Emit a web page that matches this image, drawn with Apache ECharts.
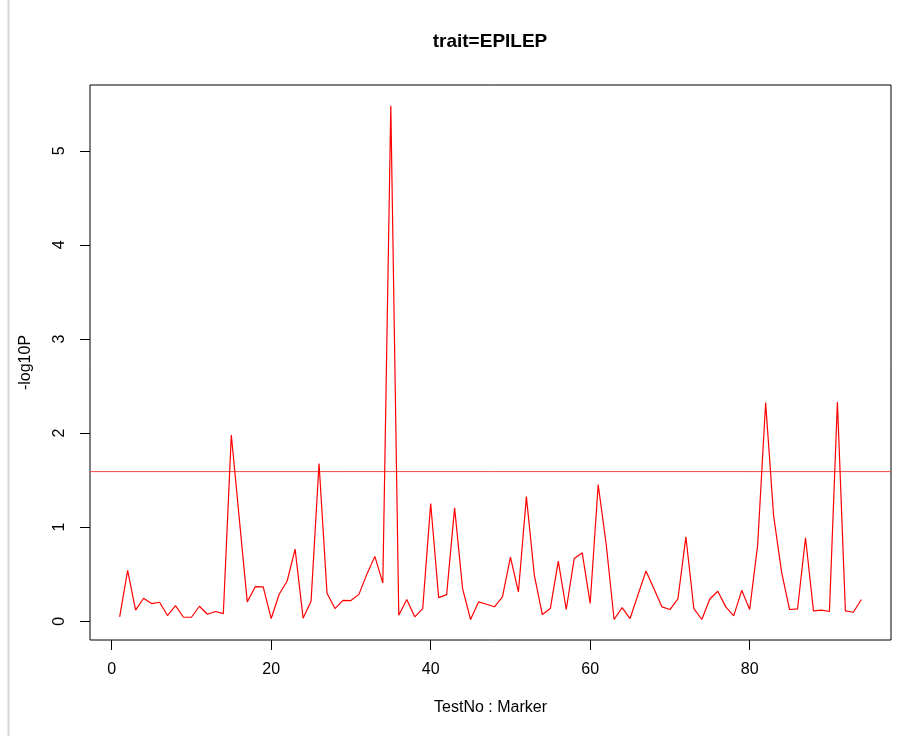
<!DOCTYPE html>
<html>
<head>
<meta charset="utf-8">
<script src="https://cdn.jsdelivr.net/npm/echarts@6/dist/echarts.min.js"></script>
<style>
html,body{margin:0;padding:0;background:#fff;}
#chart{width:917px;height:736px;}
</style>
</head>
<body>
<div id="chart"></div>
<script>
var chartTitle = 'trait=EPILEP';
var xAxisTitle = 'TestNo : Marker';
var yAxisTitle = '-log10P';
var xTicks = [0, 20, 40, 60, 80];
var yTicks = [0, 1, 2, 3, 4, 5];
var threshold = 1.59;
var negLog10P = [
  0.046, 0.54, 0.117, 0.244, 0.187, 0.201, 0.06, 0.166, 0.042, 0.042,
  0.159, 0.074, 0.103, 0.081, 1.98, 1.09, 0.205, 0.367, 0.364, 0.028,
  0.286, 0.427, 0.766, 0.032, 0.212, 1.677, 0.297, 0.134, 0.222, 0.219,
  0.285, 0.50, 0.689, 0.405, 5.48, 0.064, 0.23, 0.046, 0.134, 1.25,
  0.251, 0.282, 1.204, 0.346, 0.018, 0.205, 0.18, 0.153, 0.258, 0.681,
  0.311, 1.324, 0.487, 0.071, 0.134, 0.639, 0.124, 0.667, 0.727, 0.19,
  1.451, 0.823, 0.018, 0.145, 0.028, 0.282, 0.533, 0.346, 0.152, 0.124,
  0.236, 0.897, 0.134, 0.018, 0.236, 0.318, 0.152, 0.056, 0.328, 0.125,
  0.81, 2.323, 1.123, 0.522, 0.124, 0.13, 0.887, 0.109, 0.117, 0.103,
  2.33, 0.109, 0.095, 0.23
];
var testNo = negLog10P.map(function (v, i) { return i + 1; });

var xMin = -2.72, xMax = 97.72;
var yMin = -0.2, yMax = 5.7;

var seriesData = testNo.map(function (t, i) { return [t, negLog10P[i]]; });
var thresholdData = [[xMin, threshold], [xMax, threshold]];
var font = '"Liberation Sans", Arial, Helvetica, sans-serif';

var chart = echarts.init(document.getElementById('chart'), null, {renderer: 'canvas'});
chart.setOption({
  animation: false,
  backgroundColor: '#ffffff',
  title: {
    text: chartTitle,
    left: 490,
    top: 32,
    padding: 0,
    textAlign: 'center',
    textStyle: {fontFamily: font, fontSize: 19, fontWeight: 'bold', color: '#000'}
  },
  graphic: [{
    type: 'rect',
    shape: {x: 7.5, y: 0, width: 2, height: 736},
    style: {fill: '#d8d8d8'},
    silent: true
  }],
  grid: {
    left: 90, right: 26, top: 85, bottom: 96,
    show: true, borderColor: '#000', borderWidth: 1, backgroundColor: 'transparent'
  },
  xAxis: {
    type: 'value',
    min: xMin, max: xMax,
    name: xAxisTitle,
    nameLocation: 'middle',
    nameGap: 60,
    nameTextStyle: {fontFamily: font, fontSize: 16, color: '#000'},
    axisLine: {show: false, onZero: false},
    splitLine: {show: false},
    axisTick: {show: true, length: 10, inside: false, lineStyle: {color: '#000', width: 1}, customValues: xTicks},
    axisLabel: {show: true, margin: 22, fontFamily: font, fontSize: 16, color: '#000', customValues: xTicks}
  },
  yAxis: {
    type: 'value',
    min: yMin, max: yMax,
    name: yAxisTitle,
    nameLocation: 'middle',
    nameGap: 56,
    nameRotate: 90,
    nameTextStyle: {fontFamily: font, fontSize: 16, color: '#000'},
    axisLine: {show: false, onZero: false},
    splitLine: {show: false},
    axisTick: {show: true, length: 10, inside: false, lineStyle: {color: '#000', width: 1}, customValues: yTicks},
    axisLabel: {show: true, margin: 22, rotate: 90, fontFamily: font, fontSize: 16, color: '#000', customValues: yTicks}
  },
  series: [{
    type: 'line',
    data: thresholdData,
    showSymbol: false,
    symbol: 'none',
    silent: true,
    lineStyle: {color: '#f04848', width: 1},
    z: 1
  }, {
    type: 'line',
    data: seriesData,
    showSymbol: false,
    symbol: 'none',
    lineStyle: {color: '#ff0000', width: 1.2},
    z: 2
  }]
});
</script>
</body>
</html>
